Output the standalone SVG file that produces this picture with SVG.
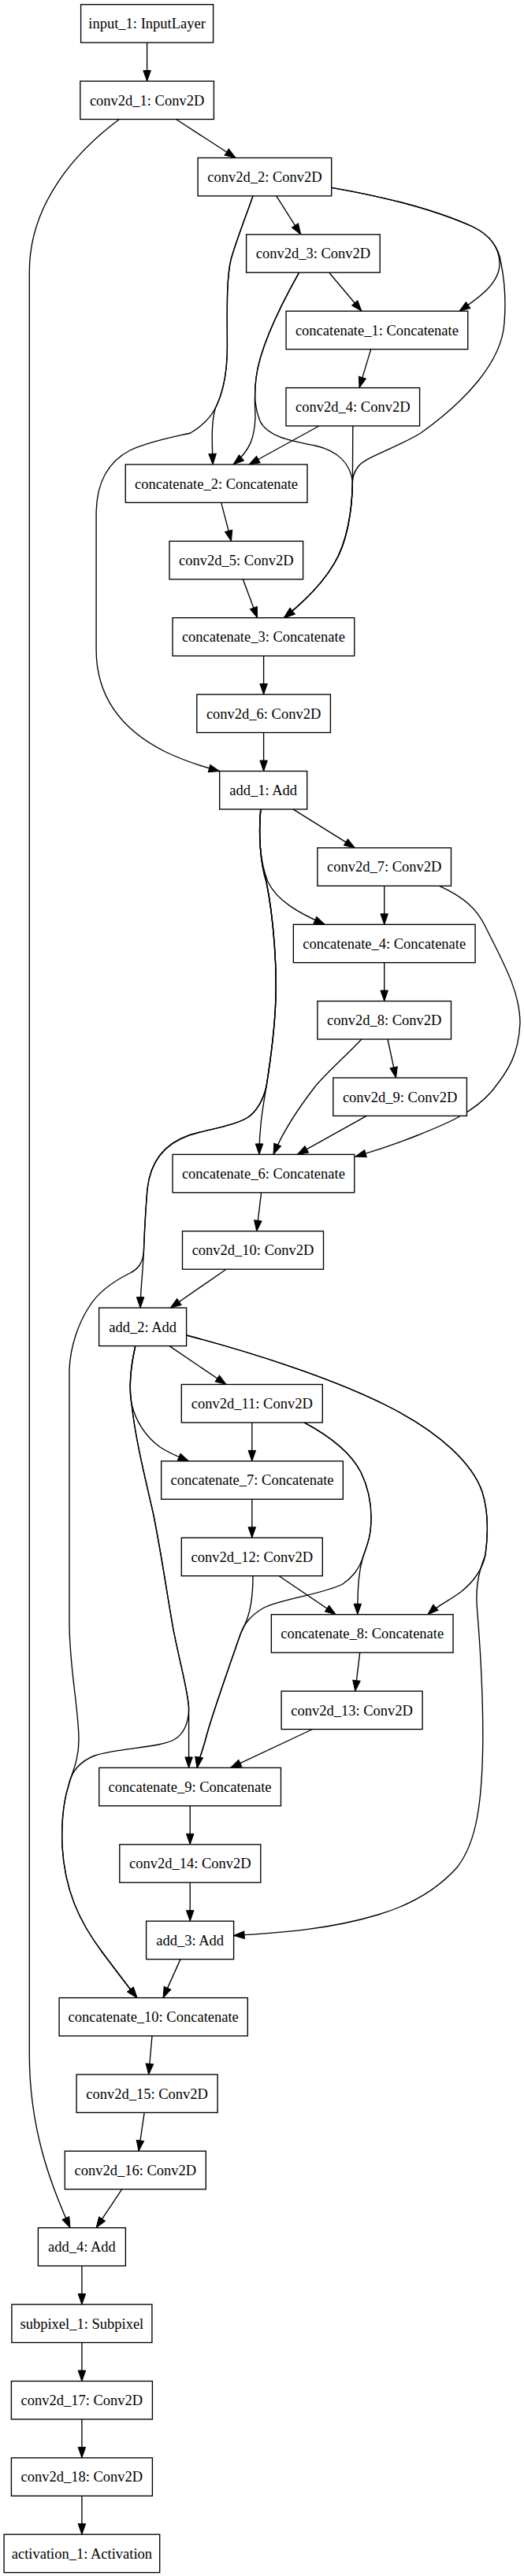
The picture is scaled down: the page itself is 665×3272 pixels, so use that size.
<svg xmlns="http://www.w3.org/2000/svg" width="665" height="3272" viewBox="0 0 665 3272">
<style>
.n rect{fill:#fff;stroke:#000;stroke-width:1.35}
.n text{font-family:"Liberation Serif","Times New Roman",serif;font-size:18.5px;text-anchor:middle;fill:#000}
.e path{fill:none;stroke:#000;stroke-width:1.35;marker-end:url(#ah)}
</style>
<defs>
<marker id="ah" markerUnits="userSpaceOnUse" markerWidth="16" markerHeight="12" viewBox="-1 -1 16 12" refX="13.5" refY="4.75" orient="auto">
<path d="M0,0 L13.5,4.75 L0,9.5 Z" fill="#000" stroke="#000" stroke-width="1"/>
</marker>
</defs>
<rect x="0" y="0" width="665" height="3272" fill="#fff"/>
<g id="connectors" class="e">
<path d="M186.6,54.1 L186.6,103.1"/>
<path d="M223.5,151.5 L299,200.5"/>
<path d="M151.4,151.5 C97,192 37.3,258 37.3,345 L37.3,2610 C37.3,2700 62,2770 89,2829.7"/>
<path d="M350.7,248.9 L381.7,297.8"/>
<path d="M420.7,238.3 C500,252 560,270 600,288 C625,300 634,318 634,335 C634,360 608,378 583,395.2"/>
<path d="M420.7,238.3 C500,252 560,270 600,288 C625,300 634,318 636,335 C641,360 642,385 640,410 C637,460 590,510 534,550 C505,568 465,580 455,592 C449,600 447.4,606 447.4,612 C447,650 440,690 424,716 C410,740 385,765 360.5,784.7"/>
<path d="M447.8,541 L447.4,612 C447,650 440,690 424,716 C410,740 385,765 360.5,784.7"/>
<path d="M379.6,346.2 C355,390 330,440 325,480 C322,505 324,520 330,535 C340,555 370,560 400,566 C430,573 445,590 447.4,612 C447,650 440,690 424,716 C410,740 385,765 360.5,784.7"/>
<path d="M379.6,346.2 C355,390 330,440 325,480 C322,505 324,520 324,530 C323,555 318,572 296,590"/>
<path d="M417.7,346.2 L458.9,395.2"/>
<path d="M321,248.9 C312,275 300,305 293,330 C287,355 288.4,400 288.4,440 C288.4,480 280,505 273.5,518 C268,535 269,560 270.1,590"/>
<path d="M321,248.9 C312,275 300,305 293,330 C287,355 288.4,400 288.4,440 C288.4,480 280,505 273.5,518 C265,535 250,545 241.7,550 C230,553 190,560 165,572 C140,585 123,610 122.1,650 L122.1,825 C122.1,890 160,930 210,955 C235,967 258,974 278.6,979.5"/>
<path d="M405,541 L316,590"/>
<path d="M470.7,443.6 L456,492.6"/>
<path d="M280.7,638.4 L293.5,687.4"/>
<path d="M308.3,735.8 L326.6,784.7"/>
<path d="M334.6,833.1 L334.6,882.1"/>
<path d="M334.6,930.5 L334.6,979.5"/>
<path d="M372,1027.9 L450.4,1076.9"/>
<path d="M330.8,1027.9 C328,1060 330,1095 340,1120 C352,1145 380,1160 412.2,1174.3"/>
<path d="M330.8,1027.9 C328,1060 330,1095 338,1120 C348,1170 351,1230 350,1265 C349,1310 342,1355 338,1380 C334,1405 329,1430 329,1466.4"/>
<path d="M330.8,1027.9 C328,1060 330,1095 338,1120 C348,1170 351,1230 350,1265 C349,1310 342,1355 338,1380 C334,1398 325,1412 315,1419 C298,1430 265,1434 240,1442 C208,1453 191,1475 187,1510 C184,1545 183,1575 182.4,1590 C181,1620 178.1,1640 178.1,1661.2"/>
<path d="M330.8,1027.9 C328,1060 330,1095 338,1120 C348,1170 351,1230 350,1265 C349,1310 342,1355 338,1380 C334,1398 325,1412 315,1419 C298,1430 265,1434 240,1442 C208,1453 191,1475 187,1510 C184,1545 183,1575 182.4,1590 C181,1605 175,1612 165,1617 C145,1627 125,1640 113,1660 C100,1680 89,1710 88,1740 L88,2060 C88,2120 100,2170 100,2210 C100,2235 92,2250 87,2268 C80,2290 78,2320 79,2345 C82,2400 100,2440 130,2480 C145,2500 160,2520 173.9,2537.6"/>
<path d="M487.7,1125.3 L487.7,1174.3"/>
<path d="M557.7,1125.3 C590,1140 605,1155 615,1175 C640,1225 660,1260 660,1300 C658,1340 645,1360 625,1385 C600,1415 560,1430 530,1442 C505,1452 475,1462 451,1469"/>
<path d="M487.7,1222.7 L487.7,1271.6"/>
<path d="M492,1320 L502.5,1369"/>
<path d="M458.9,1320 C435,1345 415,1362 400,1380 C383,1402 360,1435 347,1466.4"/>
<path d="M465.2,1417.4 L377.4,1466.4"/>
<path d="M331.6,1514.8 L325.7,1563.8"/>
<path d="M287,1612.2 L216.3,1661.2"/>
<path d="M215,1709.6 L287,1758.5"/>
<path d="M171.8,1709.6 C166,1735 163,1760 167,1783 C172,1805 185,1825 203,1838 C215,1846 228,1851 239.6,1855.9"/>
<path d="M171.8,1709.6 C166,1735 163,1760 167,1783 C172,1830 185,1880 195,1925 C205,1975 212,2025 220,2070 C230,2120 239,2150 239.6,2170 L239.6,2245.4"/>
<path d="M171.8,1709.6 C166,1735 163,1760 167,1783 C172,1830 185,1880 195,1925 C205,1975 212,2025 220,2070 C230,2120 239,2150 239.6,2170 C239.6,2190 232,2203 222,2209 C205,2220 150,2220 120,2230 C100,2238 90,2252 87,2268 C80,2290 78,2320 79,2345 C82,2400 100,2440 130,2480 C145,2500 160,2520 173.9,2537.6"/>
<path d="M236.6,1696 C320,1718 420,1750 490,1785 C560,1820 600,1860 612,1895 C620,1920 620,1945 616,1975 C612,1995 600,2010 585,2022 C570,2033 555,2040 542.8,2050.7"/>
<path d="M236.6,1696 C320,1718 420,1750 490,1785 C560,1820 600,1860 612,1895 C620,1920 620,1945 616,1975 C606,2000 603,2020 606,2050 C610,2100 613,2150 612.8,2210 C612,2290 605,2340 580,2372 C555,2400 520,2420 480,2432 C420,2450 360,2455 296.6,2458.5"/>
<path d="M386,1806.9 C420,1825 445,1845 458,1870 C470,1895 473,1920 470,1945 C468,1960 463,1970 460,1980 C456,1995 453.8,2010 453.8,2050.7"/>
<path d="M386,1806.9 C420,1825 445,1845 458,1870 C470,1895 473,1920 470,1945 C468,1960 463,1970 460,1980 C455,1995 445,2005 435,2012 C410,2025 360,2030 335,2042 C318,2052 310,2062 305,2076 C295,2105 270,2175 262,2205 C257,2225 252,2235 250.2,2245.4"/>
<path d="M321,2001.7 C321,2030 318,2045 313,2058 C310,2066 307,2071 305,2076 C295,2105 270,2175 262,2205 C257,2225 252,2235 250.2,2245.4"/>
<path d="M319.8,1806.9 L319.8,1855.9"/>
<path d="M319.8,1904.3 L319.8,1953.3"/>
<path d="M354.1,2001.7 L426.2,2050.7"/>
<path d="M456.7,2099.1 L450.8,2148.1"/>
<path d="M396.5,2196.5 L292.6,2245.4"/>
<path d="M241.2,2293.8 L241.2,2342.8"/>
<path d="M241.2,2391.2 L241.2,2440.2"/>
<path d="M229,2488.6 L207,2537.6"/>
<path d="M193,2586 L188.7,2635"/>
<path d="M183.2,2683.4 L176,2732.3"/>
<path d="M154.8,2780.7 L122.1,2829.7"/>
<path d="M103.9,2878.1 L103.9,2927.1"/>
<path d="M103.9,2975.5 L103.9,3024.5"/>
<path d="M103.9,3072.9 L103.9,3121.9"/>
<path d="M103.9,3170.3 L103.9,3219.2"/>
</g>
<g id="input_1" class="n"><rect x="102.6" y="5.7" width="168" height="48.4"/><text x="186.6" y="36.2">input_1: InputLayer</text></g>
<g id="conv2d_1" class="n"><rect x="101.8" y="103.1" width="169.6" height="48.4"/><text x="186.6" y="133.6">conv2d_1: Conv2D</text></g>
<g id="conv2d_2" class="n"><rect x="251.1" y="200.5" width="169.6" height="48.4"/><text x="335.9" y="231">conv2d_2: Conv2D</text></g>
<g id="conv2d_3" class="n"><rect x="312.6" y="297.8" width="169.6" height="48.4"/><text x="397.4" y="328.3">conv2d_3: Conv2D</text></g>
<g id="concatenate_1" class="n"><rect x="363.05" y="395.2" width="230.7" height="48.4"/><text x="478.4" y="425.7">concatenate_1: Concatenate</text></g>
<g id="conv2d_4" class="n"><rect x="363" y="492.6" width="169.6" height="48.4"/><text x="447.8" y="523.1">conv2d_4: Conv2D</text></g>
<g id="concatenate_2" class="n"><rect x="159.25" y="590" width="230.7" height="48.4"/><text x="274.6" y="620.5">concatenate_2: Concatenate</text></g>
<g id="conv2d_5" class="n"><rect x="215" y="687.4" width="169.6" height="48.4"/><text x="299.8" y="717.9">conv2d_5: Conv2D</text></g>
<g id="concatenate_3" class="n"><rect x="219.05" y="784.7" width="230.7" height="48.4"/><text x="334.4" y="815.2">concatenate_3: Concatenate</text></g>
<g id="conv2d_6" class="n"><rect x="249.8" y="882.1" width="169.6" height="48.4"/><text x="334.6" y="912.6">conv2d_6: Conv2D</text></g>
<g id="add_1" class="n"><rect x="278.7" y="979.5" width="111" height="48.4"/><text x="334.2" y="1010">add_1: Add</text></g>
<g id="conv2d_7" class="n"><rect x="402.9" y="1076.9" width="169.6" height="48.4"/><text x="487.7" y="1107.4">conv2d_7: Conv2D</text></g>
<g id="concatenate_4" class="n"><rect x="372.35" y="1174.3" width="230.7" height="48.4"/><text x="487.7" y="1204.8">concatenate_4: Concatenate</text></g>
<g id="conv2d_8" class="n"><rect x="402.9" y="1271.6" width="169.6" height="48.4"/><text x="487.7" y="1302.1">conv2d_8: Conv2D</text></g>
<g id="conv2d_9" class="n"><rect x="422.8" y="1369" width="169.6" height="48.4"/><text x="507.6" y="1399.5">conv2d_9: Conv2D</text></g>
<g id="concatenate_6" class="n"><rect x="219.05" y="1466.4" width="230.7" height="48.4"/><text x="334.4" y="1496.9">concatenate_6: Concatenate</text></g>
<g id="conv2d_10" class="n"><rect x="231.5" y="1563.8" width="179" height="48.4"/><text x="321" y="1594.3">conv2d_10: Conv2D</text></g>
<g id="add_2" class="n"><rect x="125.6" y="1661.2" width="111" height="48.4"/><text x="181.1" y="1691.7">add_2: Add</text></g>
<g id="conv2d_11" class="n"><rect x="230.3" y="1758.5" width="179" height="48.4"/><text x="319.8" y="1789">conv2d_11: Conv2D</text></g>
<g id="concatenate_7" class="n"><rect x="204.65" y="1855.9" width="230.7" height="48.4"/><text x="320" y="1886.4">concatenate_7: Concatenate</text></g>
<g id="conv2d_12" class="n"><rect x="230.3" y="1953.3" width="179" height="48.4"/><text x="319.8" y="1983.8">conv2d_12: Conv2D</text></g>
<g id="concatenate_8" class="n"><rect x="344.35" y="2050.7" width="230.7" height="48.4"/><text x="459.7" y="2081.2">concatenate_8: Concatenate</text></g>
<g id="conv2d_13" class="n"><rect x="357.1" y="2148.1" width="179" height="48.4"/><text x="446.6" y="2178.6">conv2d_13: Conv2D</text></g>
<g id="concatenate_9" class="n"><rect x="125.75" y="2245.4" width="230.7" height="48.4"/><text x="241.1" y="2275.9">concatenate_9: Concatenate</text></g>
<g id="conv2d_14" class="n"><rect x="151.8" y="2342.8" width="179" height="48.4"/><text x="241.3" y="2373.3">conv2d_14: Conv2D</text></g>
<g id="add_3" class="n"><rect x="185.6" y="2440.2" width="111" height="48.4"/><text x="241.1" y="2470.7">add_3: Add</text></g>
<g id="concatenate_10" class="n"><rect x="75.1" y="2537.6" width="239.2" height="48.4"/><text x="194.7" y="2568.1">concatenate_10: Concatenate</text></g>
<g id="conv2d_15" class="n"><rect x="97.1" y="2635" width="179" height="48.4"/><text x="186.6" y="2665.5">conv2d_15: Conv2D</text></g>
<g id="conv2d_16" class="n"><rect x="82.3" y="2732.3" width="179" height="48.4"/><text x="171.8" y="2762.8">conv2d_16: Conv2D</text></g>
<g id="add_4" class="n"><rect x="48.4" y="2829.7" width="111" height="48.4"/><text x="103.9" y="2860.2">add_4: Add</text></g>
<g id="subpixel_1" class="n"><rect x="14.9" y="2927.1" width="178" height="48.4"/><text x="103.9" y="2957.6">subpixel_1: Subpixel</text></g>
<g id="conv2d_17" class="n"><rect x="14.4" y="3024.5" width="179" height="48.4"/><text x="103.9" y="3055">conv2d_17: Conv2D</text></g>
<g id="conv2d_18" class="n"><rect x="14.4" y="3121.9" width="179" height="48.4"/><text x="103.9" y="3152.4">conv2d_18: Conv2D</text></g>
<g id="activation_1" class="n"><rect x="5.1" y="3219.2" width="197.6" height="48.4"/><text x="103.9" y="3249.7">activation_1: Activation</text></g>
</svg>
